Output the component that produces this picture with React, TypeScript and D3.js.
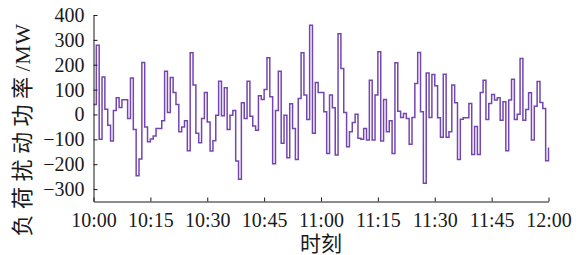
import React, { useRef, useEffect } from 'react';
import * as d3 from 'd3';

// load disturbance power, one value every 45 s from 10:00 to 12:00 (MW)
const loadValues: number[] = [
  40, 278, -100, 151, 21, -43, -107, 16, 67, 28,
  59, 59, -16, 147, -60, -246, -179, 209, -50, -110,
  -99, -87, -56, -56, -25, 174, 8, 149, 88, 40,
  -70, -50, -25, -146, 248, 118, -76, -114, -16, 88,
  -30, -147, -106, -3, 134, -5, 107, -60, -3, 16,
  -187, -261, 47, -16, 134, -7, -46, -63, 75, 60,
  100, 228, 71, -198, 16, 174, -116, -3, -174, 43,
  -56, -181, 64, 248, 78, -20, 359, -76, 129, 88,
  88, 11, -157, 78, 27, -163, 325, 185, 8, -130,
  -70, -32, 1, -96, -100, -56, -103, 138, -103, 78,
  252, -107, 60, -70, -25, -157, 208, 13, -12, 4,
  -16, -120, -12, 125, 249, 11, -277, 167, -12, 161,
  115, -13, -92, 162, -92, -70, 118, 47, -181, -19,
  -13, -13, 44, -161, -48, -161, 88, 138, -20, 44,
  80, 58, 67, -23, 51, -146, 58, 142, -20, 1,
  225, -23, 20, 87, -103, 33, 133, 48, 24, -186,
  -133,
];

const yTicks: number[] = [-300, -200, -100, 0, 100, 200, 300, 400];
const xTickLabels: string[] = ['10:00', '10:15', '10:30', '10:45', '11:00', '11:15', '11:30', '11:45', '12:00'];
const yTitleCjk = '负荷扰动功率';
const yTitleUnit = '/MW';
const xTitle = '时刻';

const STEP_SECONDS = 45;

const width = 582;
const height = 255;
const left = 93.5;
const right = 548.5;
const top = 15;
const bottom = 201.5;

const numFont = "'Liberation Serif', 'Noto Sans CJK SC', serif";

const App: React.FC = () => {
  const svgRef = useRef<SVGSVGElement>(null);

  useEffect(() => {
    if (!svgRef.current) return;
    const svg = d3.select(svgRef.current);
    svg.selectAll('*').remove();

    const start = new Date(2020, 0, 1, 10, 0, 0);
    const end = new Date(2020, 0, 1, 12, 0, 0);

    const xScale = d3.scaleTime().domain([start, end]).range([left, right]);
    const yScale = d3.scaleLinear().domain([-350, 400]).range([bottom, top]);

    const points = loadValues.map((v, i) => ({
      t: new Date(start.getTime() + i * STEP_SECONDS * 1000),
      v,
    }));

    // step line
    const line = d3.line<{ t: Date; v: number }>()
      .x(d => xScale(d.t))
      .y(d => yScale(d.v))
      .curve(d3.curveStepAfter);

    svg.append('path')
      .datum(points)
      .attr('d', line)
      .attr('fill', 'none')
      .attr('stroke', '#7446b0')
      .attr('stroke-width', 1.5)
      .attr('stroke-linejoin', 'miter');

    // x axis
    const xTickDates = xTickLabels.map((_, i) => new Date(start.getTime() + i * 15 * 60 * 1000));
    const xAxis = d3.axisBottom(xScale)
      .tickValues(xTickDates)
      .tickFormat((_, i) => xTickLabels[i])
      .tickSizeInner(-4)
      .tickSizeOuter(0)
      .tickPadding(11);

    const gx = svg.append('g')
      .attr('transform', `translate(0, ${bottom})`)
      .call(xAxis);
    gx.selectAll('text')
      .style('font-family', numFont)
      .style('font-size', '20px')
      .style('fill', '#1a1a1a');

    // y axis
    const yAxis = d3.axisLeft(yScale)
      .tickValues(yTicks)
      .tickSizeInner(-4)
      .tickSizeOuter(0)
      .tickPadding(9);

    const gy = svg.append('g')
      .attr('transform', `translate(${left}, 0)`)
      .call(yAxis);
    gy.selectAll('text')
      .style('font-family', numFont)
      .style('font-size', '20px')
      .style('fill', '#1a1a1a');

    svg.selectAll('.domain, .tick line')
      .attr('stroke', '#1a1a1a')
      .attr('stroke-width', 1);

    // axis titles
    svg.append('text')
      .attr('x', (left + right) / 2)
      .attr('y', 251)
      .attr('text-anchor', 'middle')
      .style('font-family', numFont)
      .style('font-size', '21px')
      .style('fill', '#1a1a1a')
      .text(xTitle);

    const yt = svg.append('text')
      .attr('transform', `translate(30, 130) rotate(-90)`)
      .attr('text-anchor', 'middle')
      .style('font-family', numFont)
      .style('font-size', '22px')
      .style('fill', '#1a1a1a');
    yt.append('tspan')
      .style('letter-spacing', '5.5px')
      .text(yTitleCjk);
    yt.append('tspan')
      .style('letter-spacing', '0.5px')
      .text(yTitleUnit);
  }, []);

  return (
    <div style={{ position: 'absolute', left: 0, top: 0 }}>
      <svg ref={svgRef} width={width} height={height} style={{ display: 'block', background: '#fff' }} />
    </div>
  );
};

export default App;
